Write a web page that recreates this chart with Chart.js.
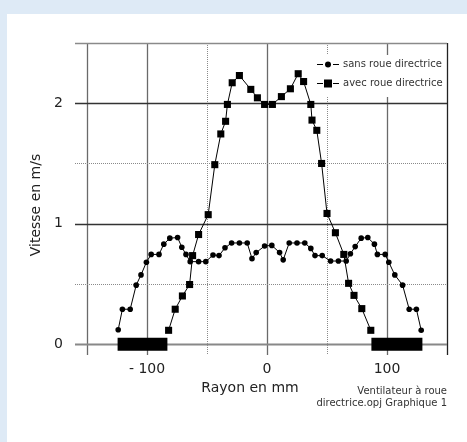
<!DOCTYPE html>
<html>
<head>
<meta charset="utf-8">
<script src="https://cdn.jsdelivr.net/npm/chart.js@4.4.1/dist/chart.umd.min.js"></script>
<style>
  html, body { margin: 0; padding: 0; background: #deeaf6; overflow: hidden; }
  #panel { position: absolute; left: 7px; top: 14px; right: 0; bottom: 0; background: #fff; }
  #wrap { position: absolute; left: 0; top: 0; width: 467px; height: 442px; }
</style>
</head>
<body>
<div id="panel"></div>
<div id="wrap"><canvas id="myChart"></canvas></div>
<script>
// Rayon en mm / vitesse en m/s, sans roue directrice
const rayonSans = [-124, -120.5, -114, -109, -105, -100.5, -96.5, -90, -86, -81, -74.5, -71, -67.5, -64, -57, -51,
  -45, -40, -35, -29.5, -23, -16.5, -12.5, -9, -2, 4, 10.5, 13.5, 18.5, 25, 31.5, 36.5,
  40, 46, 53, 59.5, 66, 69.5, 73.5, 78.5, 84, 89.5, 92, 98.5, 101.5, 106.5, 113, 118.5, 124.5, 128.5];
const vitesseSans = [0.12, 0.29, 0.29, 0.49, 0.575, 0.68, 0.745, 0.745, 0.83, 0.88, 0.885, 0.805, 0.745, 0.685, 0.685, 0.685,
  0.74, 0.735, 0.80, 0.84, 0.84, 0.84, 0.71, 0.76, 0.815, 0.82, 0.76, 0.70, 0.84, 0.84, 0.84, 0.795,
  0.735, 0.735, 0.69, 0.69, 0.69, 0.75, 0.81, 0.88, 0.885, 0.83, 0.745, 0.745, 0.68, 0.575, 0.49, 0.29, 0.29, 0.115];

// avec roue directrice
const rayonAvec = [-82, -76.5, -70.5, -64.5, -62, -57, -49, -43.5, -38.5, -34.5, -33, -29, -23, -13.5, -8, -2,
  4.5, 12, 19.5, 26, 30.5, 36.5, 37.5, 41.5, 45.5, 50, 57, 64, 68, 72.5, 79, 86.5];
const vitesseAvec = [0.115, 0.29, 0.40, 0.495, 0.735, 0.91, 1.075, 1.49, 1.745, 1.85, 1.99, 2.17, 2.23, 2.115, 2.045, 1.99,
  1.99, 2.055, 2.12, 2.245, 2.18, 1.99, 1.86, 1.775, 1.50, 1.085, 0.925, 0.745, 0.505, 0.405, 0.295, 0.115];

// black bars on the zero line (moyeu)
const moyeuRayon = [-124.5, -83, 0, 87, 129.5];
const moyeuVitesse = [0, 0, null, 0, 0];

// axes
const xTicks = [-100, 0, 100];
const yTicks = [0, 1, 2];
const xGrid = [-150, -100, -50, 0, 50, 100, 150];
const yGrid = [0, 0.5, 1, 1.5, 2, 2.5];
const dottedX = [-50, 50];
const dottedY = [0.5, 1.5];

function toPoints(xs, ys) {
    return xs.map((x, i) => ({ x: x, y: ys[i] }));
}

// grid lines: solid and dotted, drawn under the curves
const gridPlugin = {
    id: 'gridLines',
    beforeDatasetsDraw(chart) {
        const { ctx, chartArea: a, scales: { x, y } } = chart;
        ctx.save();
        xGrid.forEach(v => {
            const px = Math.round(x.getPixelForValue(v)) + 0.5;
            const dotted = dottedX.includes(v);
            ctx.strokeStyle = dotted ? '#8a8a8a' : (v === 150 ? '#222' : '#6a6a6a');
            ctx.lineWidth = dotted ? 1 : 1.3;
            ctx.setLineDash(dotted ? [1, 1] : []);
            ctx.beginPath();
            ctx.moveTo(px, a.top);
            ctx.lineTo(px, a.bottom);
            ctx.stroke();
        });
        yGrid.forEach(v => {
            const py = Math.round(y.getPixelForValue(v)) + 0.5;
            const dotted = dottedY.includes(v);
            ctx.setLineDash(dotted ? [1, 1] : []);
            if (v === 0) { ctx.strokeStyle = '#888'; ctx.lineWidth = 2; }
            else if (v === 2.5) { ctx.strokeStyle = '#8a8a8a'; ctx.lineWidth = 1.5; }
            else if (dotted) { ctx.strokeStyle = '#8a8a8a'; ctx.lineWidth = 1; }
            else { ctx.strokeStyle = '#333'; ctx.lineWidth = 1.3; }
            ctx.beginPath();
            ctx.moveTo(a.left, py);
            ctx.lineTo(a.right, py);
            ctx.stroke();
        });
        ctx.restore();
    }
};

// legend box inside the plot, top right, plus titles and footnote
const textPlugin = {
    id: 'texts',
    afterDatasetsDraw(chart) {
        const ctx = chart.ctx;
        ctx.save();
        ctx.fillStyle = '#fff';
        ctx.fillRect(315, 55, 131, 42);

        chart.data.datasets.slice(0, 2).forEach((ds, i) => {
            const yy = 64.5 + i * 19;
            ctx.strokeStyle = '#000';
            ctx.lineWidth = 1;
            ctx.beginPath();
            ctx.moveTo(317, yy); ctx.lineTo(323, yy);
            ctx.moveTo(333, yy); ctx.lineTo(339, yy);
            ctx.stroke();
            ctx.fillStyle = '#000';
            if (ds.pointStyle === 'rect') {
                ctx.fillRect(324, yy - 4, 8, 8);
            } else {
                ctx.beginPath();
                ctx.arc(328, yy, 3, 0, Math.PI * 2);
                ctx.fill();
            }
            ctx.fillStyle = '#333';
            ctx.font = '10px "DejaVu Sans"';
            ctx.textAlign = 'left';
            ctx.textBaseline = 'middle';
            ctx.fillText(ds.label, 343, yy);
        });

        ctx.fillStyle = '#222';
        ctx.font = '14px "DejaVu Sans"';
        ctx.textAlign = 'center';
        ctx.textBaseline = 'middle';
        ctx.fillText('Rayon en mm', 250, 388);

        ctx.save();
        ctx.translate(36, 205);
        ctx.rotate(-Math.PI / 2);
        ctx.fillText('Vitesse en m/s', 0, 0);
        ctx.restore();

        ctx.fillStyle = '#333';
        ctx.font = '10px "DejaVu Sans"';
        ctx.textAlign = 'right';
        ctx.fillText('Ventilateur à roue', 447, 391);
        ctx.fillText('directrice.opj Graphique 1', 447, 403);
        ctx.restore();
    }
};

const ctx = document.getElementById('myChart').getContext('2d');
new Chart(ctx, {
    type: 'scatter',
    data: {
        datasets: [
            {
                label: 'sans roue directrice',
                data: toPoints(rayonSans, vitesseSans),
                showLine: true,
                borderColor: '#000',
                borderWidth: 1,
                pointStyle: 'circle',
                pointRadius: 2.8,
                pointBackgroundColor: '#000',
                pointBorderWidth: 0
            },
            {
                label: 'avec roue directrice',
                data: toPoints(rayonAvec, vitesseAvec),
                showLine: true,
                borderColor: '#000',
                borderWidth: 1,
                pointStyle: 'rect',
                pointRadius: 5,
                pointBackgroundColor: '#000',
                pointBorderWidth: 0
            },
            {
                label: 'moyeu',
                data: toPoints(moyeuRayon, moyeuVitesse),
                showLine: true,
                spanGaps: false,
                borderColor: '#000',
                borderWidth: 13,
                borderCapStyle: 'butt',
                pointRadius: 0
            }
        ]
    },
    options: {
        responsive: true,
        maintainAspectRatio: false,
        animation: false,
        layout: { padding: { top: 43, right: 20, left: 0, bottom: 0 } },
        scales: {
            x: {
                type: 'linear',
                min: -160,
                max: 150,
                grid: { display: false, drawTicks: false },
                border: { display: false },
                afterBuildTicks: axis => { axis.ticks = xTicks.map(v => ({ value: v })); },
                afterFit: axis => { axis.height = 87; },
                ticks: {
                    padding: 6,
                    color: '#222',
                    font: { family: 'DejaVu Sans', size: 14 },
                    callback: v => v < 0 ? '- ' + Math.abs(v) : String(v)
                }
            },
            y: {
                type: 'linear',
                min: -0.09,
                max: 2.5,
                grid: { display: false, drawTicks: false },
                border: { display: false },
                afterBuildTicks: axis => { axis.ticks = yTicks.map(v => ({ value: v })); },
                afterFit: axis => { axis.width = 75; },
                ticks: {
                    padding: 12,
                    color: '#222',
                    font: { family: 'DejaVu Sans', size: 14 }
                }
            }
        },
        plugins: {
            legend: { display: false },
            tooltip: { enabled: false }
        }
    },
    plugins: [gridPlugin, textPlugin]
});
</script>
</body>
</html>
